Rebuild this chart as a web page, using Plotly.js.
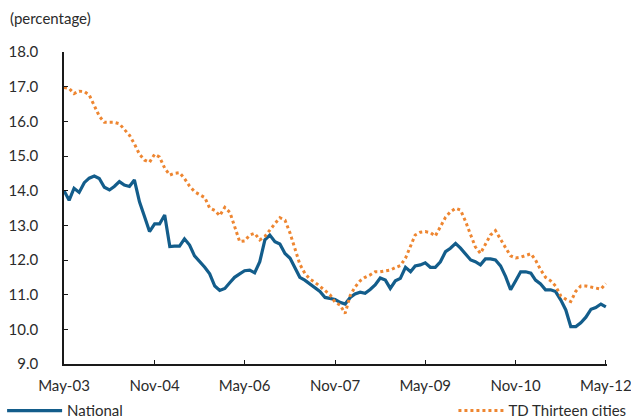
<!DOCTYPE html>
<html>
<head>
<meta charset="utf-8">
<script src="https://cdn.plot.ly/plotly-3.0.1.min.js"></script>
<style>
  html, body { margin: 0; padding: 0; background: #fff; }
  #chart { width: 631px; height: 420px; }
</style>
</head>
<body>
<div id="chart"></div>
<script>
// monthly rates, May-03 .. May-12
const national = [
  14.00, 13.72, 14.07, 13.95, 14.23, 14.36, 14.42, 14.35, 14.10, 14.02,
  14.12, 14.26, 14.16, 14.12, 14.31, 13.68, 13.25, 12.82, 13.04, 13.04,
  13.30, 12.39, 12.40, 12.40, 12.61, 12.43, 12.12, 11.97, 11.79, 11.60,
  11.25, 11.12, 11.18, 11.35, 11.50, 11.60, 11.69, 11.71, 11.63, 11.95,
  12.58, 12.72, 12.53, 12.46, 12.19, 12.05, 11.81, 11.50, 11.42, 11.30,
  11.20, 11.09, 10.92, 10.88, 10.86, 10.78, 10.73, 10.92, 11.02, 11.07,
  11.04, 11.15, 11.28, 11.48, 11.42, 11.18, 11.40, 11.47, 11.79, 11.66,
  11.83, 11.86, 11.92, 11.79, 11.79, 11.95, 12.24, 12.34, 12.48, 12.34,
  12.17, 12.00, 11.95, 11.86, 12.03, 12.03, 12.00, 11.83, 11.52, 11.14,
  11.40, 11.66, 11.66, 11.62, 11.42, 11.31, 11.14, 11.14, 11.09, 10.85,
  10.56, 10.08, 10.08, 10.19, 10.35, 10.58, 10.63, 10.73, 10.65
];

const thirteenCities = [
  16.98, 16.95, 16.80, 16.87, 16.86, 16.76, 16.45, 16.15, 15.97, 15.98,
  15.97, 15.93, 15.77, 15.60, 15.35, 15.05, 14.88, 14.82, 15.05, 14.97,
  14.65, 14.45, 14.50, 14.52, 14.35, 14.13, 13.97, 13.88, 13.80, 13.50,
  13.43, 13.28, 13.52, 13.37, 13.00, 12.53, 12.55, 12.72, 12.77, 12.58,
  12.68, 12.88, 13.05, 13.22, 13.15, 12.77, 12.35, 11.88, 11.62, 11.45,
  11.36, 11.25, 11.12, 11.00, 10.78, 10.70, 10.46, 10.98, 11.22, 11.40,
  11.50, 11.57, 11.66, 11.66, 11.68, 11.71, 11.78, 11.84, 12.05, 12.38,
  12.72, 12.80, 12.82, 12.79, 12.69, 12.96, 13.23, 13.39, 13.49, 13.44,
  13.11, 12.72, 12.38, 12.19, 12.45, 12.72, 12.85, 12.62, 12.35, 12.12,
  12.06, 12.08, 12.14, 12.18, 12.00, 11.72, 11.50, 11.40, 11.25, 10.97,
  10.87, 10.80, 11.10, 11.25, 11.25, 11.22, 11.18, 11.16, 11.32
];

const tickDates = ["2003-05-01", "2004-11-01", "2006-05-01", "2007-11-01", "2009-05-01", "2010-11-01", "2012-05-01"];
const tickLabels = ["May-03", "Nov-04", "May-06", "Nov-07", "May-09", "Nov-10", "May-12"];

// one date per observation
const months = national.map((_, i) => {
  const d = new Date(Date.UTC(2003, 4 + i, 1));
  return d.toISOString().slice(0, 10);
});

const C = {
  blue: "#135d8b",
  orange: "#ee8631",
  ink: "#2b2b2b",
  axis: "#1a1a1a"
};

const FONT = "Lato, 'Open Sans', sans-serif";

const traces = [
  {
    type: "scatter",
    mode: "lines",
    name: "National",
    x: months,
    y: national,
    line: { color: C.blue, width: 3.2 },
    legend: "legend"
  },
  {
    type: "scatter",
    mode: "lines",
    name: "TD Thirteen cities",
    x: months,
    y: thirteenCities,
    line: { color: C.orange, width: 3, dash: "dot" },
    legend: "legend2"
  }
];

const layout = {
  width: 631,
  height: 420,
  margin: { l: 64, r: 24, t: 52, b: 56, autoexpand: false },
  paper_bgcolor: "#fff",
  plot_bgcolor: "#fff",
  font: { family: FONT, size: 15, color: C.ink },
  showlegend: true,
  xaxis: {
    type: "date",
    range: ["2003-05-01", "2012-05-08"],
    tickvals: tickDates,
    ticktext: tickLabels,
    ticks: "inside",
    ticklen: 4,
    tickcolor: C.axis,
    showline: true,
    linecolor: C.axis,
    linewidth: 1.5,
    showgrid: false,
    zeroline: false,
    tickfont: { size: 15, color: C.ink },
    ticklabelstandoff: 7,
    ticklabeloverflow: "allow"
  },
  yaxis: {
    range: [9, 18],
    dtick: 1,
    tick0: 9,
    tickformat: ".1f",
    ticks: "inside",
    ticklen: 4,
    tickcolor: C.axis,
    showline: true,
    linecolor: C.axis,
    linewidth: 1.5,
    showgrid: false,
    zeroline: false,
    tickfont: { size: 15, color: C.ink },
    ticklabelstandoff: 21
  },
  legend: {
    x: -0.114, y: -0.15, xanchor: "left", yanchor: "middle",
    orientation: "h",
    itemwidth: 55,
    bgcolor: "rgba(0,0,0,0)",
    font: { size: 15, color: C.ink }
  },
  legend2: {
    x: 1.045, y: -0.15, xanchor: "right", yanchor: "middle",
    orientation: "h",
    itemwidth: 45,
    bgcolor: "rgba(0,0,0,0)",
    font: { size: 15, color: C.ink }
  },
  annotations: [
    {
      text: "(percentage)",
      xref: "paper", yref: "paper",
      x: -0.103, y: 1.109,
      xanchor: "left", yanchor: "middle",
      showarrow: false,
      font: { size: 15, color: C.ink }
    }
  ]
};

Plotly.newPlot("chart", traces, layout, { displayModeBar: false, responsive: false });
</script>
</body>
</html>
